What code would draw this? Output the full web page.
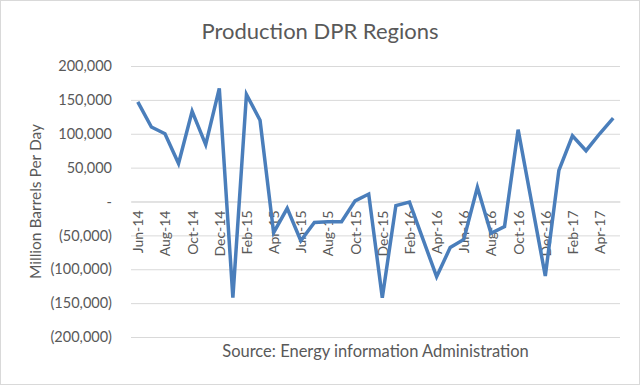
<!DOCTYPE html>
<html>
<head>
<meta charset="utf-8">
<script src="https://cdn.jsdelivr.net/npm/d3@7"></script>
<style>
  body { margin: 0; background: #fff; }
  text { font-family: Lato, "Open Sans", sans-serif; fill: #595959; }
</style>
</head>
<body>
<div id="chart"></div>
<script>
const width = 640;
const height = 385;
const margin = { top: 66, right: 20, bottom: 48, left: 131 };

// data
const months = [
  "Jun-14", "Jul-14", "Aug-14", "Sep-14", "Oct-14", "Nov-14", "Dec-14",
  "Jan-15", "Feb-15", "Mar-15", "Apr-15", "May-15", "Jun-15", "Jul-15",
  "Aug-15", "Sep-15", "Oct-15", "Nov-15", "Dec-15", "Jan-16", "Feb-16",
  "Mar-16", "Apr-16", "May-16", "Jun-16", "Jul-16", "Aug-16", "Sep-16",
  "Oct-16", "Nov-16", "Dec-16", "Jan-17", "Feb-17", "Mar-17", "Apr-17", "May-17"
];
const production = [
  147000, 110000, 100000, 56000, 133000, 84000, 167000,
  -142000, 158000, 120000, -46000, -10000, -58000, -31000,
  -30000, -30000, 1000, 11000, -142000, -6000, -1000,
  -56000, -111000, -68000, -56000, 21000, -47000, -37000,
  106000, -2000, -110000, 46000, 97000, 75000, 100000, 123000
];
const yTicks = [200000, 150000, 100000, 50000, 0, -50000, -100000, -150000, -200000];

const svg = d3
  .select("#chart")
  .append("svg")
  .attr("width", width)
  .attr("height", height);

// outer frame
svg
  .append("rect")
  .attr("x", 0.5)
  .attr("y", 0.5)
  .attr("width", width - 1)
  .attr("height", height - 1)
  .attr("fill", "#fff")
  .attr("stroke", "#d9d9d9");

const x = d3
  .scalePoint()
  .domain(months)
  .range([margin.left, width - margin.right])
  .padding(0.5);

const y = d3
  .scaleLinear()
  .domain([-200000, 200000])
  .range([height - margin.bottom, margin.top]);

const fmt = (v) => {
  if (v === 0) return "-";
  const s = d3.format(",")(Math.abs(v));
  return v < 0 ? "(" + s + ")" : s;
};

// gridlines + y labels
const yAxis = svg
  .append("g")
  .attr("class", "y axis")
  .attr("transform", "translate(" + margin.left + ",0)")
  .call(
    d3
      .axisLeft(y)
      .tickValues(yTicks)
      .tickFormat(fmt)
      .tickSize(-(width - margin.left - margin.right))
      .tickPadding(19)
  );
yAxis.select(".domain").remove();
yAxis.selectAll("line").attr("stroke", "#d9d9d9").attr("stroke-width", 1);
yAxis.selectAll("text").style("font-size", "14.5px").attr("fill", "#595959");

// x labels (every other month) hanging from the zero line
const xAxis = svg
  .append("g")
  .attr("class", "x axis")
  .attr("transform", "translate(0," + y(0) + ")")
  .call(
    d3
      .axisBottom(x)
      .tickValues(months.filter((d, i) => i % 2 === 0))
      .tickSize(0)
  );
xAxis.select(".domain").attr("stroke", "#d9d9d9");
xAxis
  .selectAll("text")
  .style("font-size", "14px")
  .attr("fill", "#595959")
  .attr("text-anchor", "end")
  .attr("transform", "rotate(-90)")
  .attr("x", -9)
  .attr("y", 0)
  .attr("dy", "0.35em");

// the line
svg
  .append("path")
  .datum(production)
  .attr("fill", "none")
  .attr("stroke", "#4a7ebb")
  .attr("stroke-width", 3.5)
  .attr("stroke-linejoin", "miter")
  .attr(
    "d",
    d3
      .line()
      .x((d, i) => x(months[i]))
      .y((d) => y(d))
  );

// titles
svg
  .append("text")
  .text("Production DPR Regions")
  .attr("x", 320)
  .attr("y", 39)
  .attr("text-anchor", "middle")
  .style("font-size", "22px");

svg
  .append("text")
  .text("Million Barrels Per Day")
  .attr("transform", "translate(41," + y(0) + ") rotate(-90)")
  .attr("text-anchor", "middle")
  .style("font-size", "15.5px");

svg
  .append("text")
  .text("Source: Energy information Administration")
  .attr("x", (margin.left + width - margin.right) / 2)
  .attr("y", 357)
  .attr("text-anchor", "middle")
  .style("font-size", "16.5px");
</script>
</body>
</html>
